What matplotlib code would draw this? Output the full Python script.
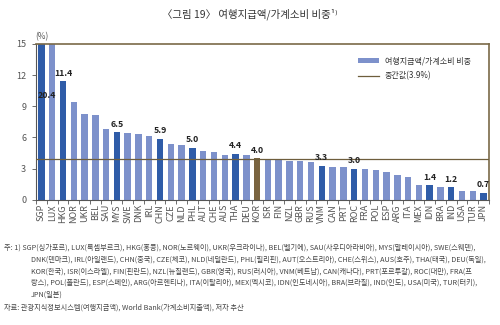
import matplotlib
matplotlib.use("Agg")
import matplotlib.pyplot as plt
from matplotlib.patches import Patch
from matplotlib.lines import Line2D
import numpy as np

plt.rcParams['font.family'] = ['Noto Sans CJK KR', 'DejaVu Sans']

countries = ['SGP', 'LUX', 'HKG', 'NOR', 'UKR', 'BEL', 'SAU', 'MYS', 'SWE', 'DNK',
             'IRL', 'CHN', 'CZE', 'NLD', 'PHL', 'AUT', 'CHE', 'AUS', 'THA', 'DEU',
             'KOR', 'ISR', 'FIN', 'NZL', 'GBR', 'RUS', 'VNM', 'CAN', 'PRT', 'ROC',
             'FRA', 'POL', 'ESP', 'ARG', 'ITA', 'MEX', 'IDN', 'BRA', 'IND', 'USA',
             'TUR', 'JPN']
share = [20.4, 17.0, 11.4, 9.4, 8.3, 8.2, 6.8, 6.5, 6.4, 6.3,
         6.1, 5.9, 5.35, 5.3, 5.0, 4.7, 4.6, 4.3, 4.4, 4.3,
         4.0, 3.9, 3.9, 3.7, 3.7, 3.6, 3.3, 3.2, 3.2, 3.0,
         3.0, 2.9, 2.7, 2.4, 2.2, 1.4, 1.4, 1.2, 1.2, 0.9,
         0.9, 0.7]
asia = ['SGP', 'HKG', 'MYS', 'CHN', 'PHL', 'THA', 'VNM', 'ROC', 'IDN', 'IND', 'JPN']
median = 3.9

LIGHT = '#7d91cb'
DARK = '#2f5ca8'
BROWN = '#7a6440'
FRAME = '#7a6a48'
GREY = '#555555'

colors = []
for c in countries:
    if c == 'KOR':
        colors.append(BROWN)
    elif c in asia:
        colors.append(DARK)
    else:
        colors.append(LIGHT)

fig = plt.figure(figsize=(5, 3.25), dpi=100)
ax = fig.add_axes([0.072, 0.385, 0.906, 0.48])

x = np.arange(len(countries))
ax.bar(x, share, width=0.6, color=colors, zorder=2)
ax.axhline(median, color='#6e5e3c', lw=0.9, zorder=3)

ax.set_xlim(-0.5, len(countries) - 0.5)
ax.set_ylim(0, 15)
ax.set_yticks([0, 3, 6, 9, 12, 15])
ax.tick_params(axis='y', labelsize=6.5, colors=GREY, length=3, width=0.6, pad=4)
ax.set_xticks(x)
ax.set_xticklabels(countries, rotation=90, fontsize=6.5, color=GREY)
ax.set_xticks(np.arange(len(countries) + 1) - 0.5, minor=True)
ax.tick_params(axis='x', which='major', length=0, pad=3)
ax.tick_params(axis='x', which='minor', length=3, width=0.6, color=GREY)

for s in ['top', 'right']:
    ax.spines[s].set_color(FRAME)
    ax.spines[s].set_linewidth(1.2)
for s in ['left', 'bottom']:
    ax.spines[s].set_color(GREY)
    ax.spines[s].set_linewidth(0.8)

# value labels for highlighted countries
labelled = ['HKG', 'MYS', 'CHN', 'PHL', 'THA', 'KOR', 'VNM', 'ROC', 'IDN', 'IND', 'JPN']
for c in labelled:
    i = countries.index(c)
    ax.text(i, share[i] + 0.35, f'{share[i]:.1f}', ha='center', va='bottom',
            fontsize=6.3, fontweight='bold', color='#222222', zorder=4)
ax.text(0.5, 9.6, f'{share[0]:.1f}', ha='center', va='bottom',
        fontsize=6.3, fontweight='bold', color='#222222', zorder=4)

ax.text(0.0, 15.25, '(%)', fontsize=6, color=GREY, ha='center', va='bottom')

handles = [Patch(facecolor=LIGHT, edgecolor='none'),
           Line2D([], [], color='#6e5e3c', lw=0.9)]
labels = ['여행지급액/가계소비 비중', '중간값(3.9%)']
leg = ax.legend(handles, labels, loc='upper left', bbox_to_anchor=(0.695, 0.965),
                frameon=False, fontsize=5.8, handlelength=2.6, handleheight=0.6,
                labelspacing=0.7, handletextpad=0.7)
for t in leg.get_texts():
    t.set_color('#333333')

fig.text(0.5, 0.955, '〈그림 19〉 여행지급액/가계소비 비중¹⁾', ha='center', va='center',
         fontsize=7.5, color='#333333')

notes = [
    (0.008, '주: 1) SGP(싱가포르), LUX(룩셈부르크), HKG(홍콩), NOR(노르웨이), UKR(우크라이나), BEL(벨기에), SAU(사우디아라비아), MYS(말레이시아), SWE(스웨덴),'),
    (0.062, 'DNK(덴마크), IRL(아일랜드), CHN(중국), CZE(체코), NLD(네덜란드), PHL(필리핀), AUT(오스트리아), CHE(스위스), AUS(호주), THA(태국), DEU(독일),'),
    (0.062, 'KOR(한국), ISR(이스라엘), FIN(핀란드), NZL(뉴질랜드), GBR(영국), RUS(러시아), VNM(베트남), CAN(캐나다), PRT(포르투갈), ROC(대만), FRA(프'),
    (0.062, '랑스), POL(폴란드), ESP(스페인), ARG(아르헨티나), ITA(이탈리아), MEX(멕시코), IDN(인도네시아), BRA(브라질), IND(인도), USA(미국), TUR(터키),'),
    (0.062, 'JPN(일본)'),
]
ys = [248, 260, 272, 283, 295]
for (xx, line), yy in zip(notes, ys):
    fig.text(xx, 1 - yy / 325, line, fontsize=5.2, color='#444444', va='center')
fig.text(0.008, 1 - 308 / 325, '자료: 관광지식정보시스템(여행지급액), World Bank(가계소비지출액), 저자 추산',
         fontsize=5.2, color='#444444', va='center')

fig.savefig('out.png', dpi=100)
